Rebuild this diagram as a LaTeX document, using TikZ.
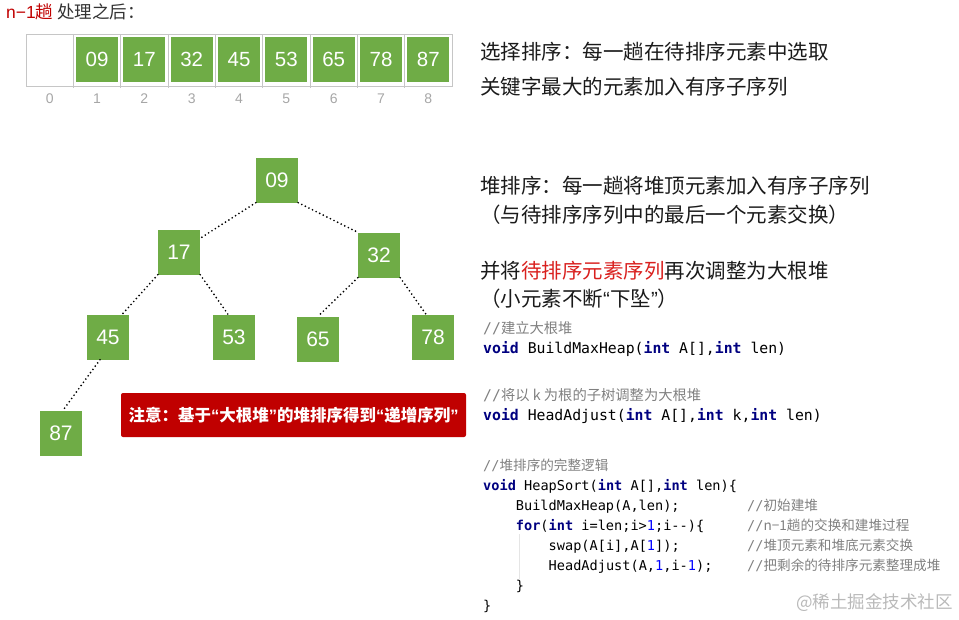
\documentclass[tikz,border=0pt]{standalone}
\usepackage{fontspec}
\setmainfont{Noto Sans CJK SC}
\newfontfamily\cjk{Noto Sans CJK SC}
\newfontfamily\latinfont{Liberation Sans}
\newfontfamily\codefont{DejaVu Sans Mono}
\usetikzlibrary{positioning}

\definecolor{boxgreen}{HTML}{6FAC46}
\definecolor{notered}{HTML}{C00000}
\definecolor{hlred}{HTML}{D9201E}
\definecolor{kwblue}{HTML}{000080}
\definecolor{numblue}{HTML}{0000FF}
\definecolor{cmtgray}{HTML}{808080}
\definecolor{textdark}{HTML}{1A1A1A}

\newcommand{\kw}[1]{{\bfseries\color{kwblue}#1}}
\newcommand{\nm}[1]{{\color{numblue}#1}}
\newcommand{\oq}{{\latinfont “}}
\newcommand{\cq}{{\latinfont ”}}

\begin{document}
\begin{tikzpicture}[
  x=1pt, y=-1pt,
  cell/.style={fill=boxgreen,minimum width=42pt,minimum height=45pt,inner sep=0pt,
               text=white,font=\latinfont\fontsize{20.5}{21}\selectfont},
  heapnode/.style={cell,font=\latinfont\fontsize{21}{21}\selectfont},
  idx/.style={text=gray!70,font=\latinfont\fontsize{14}{14}\selectfont,inner sep=0pt},
  desc/.style={anchor=west,inner sep=0pt,text=textdark,font=\fontsize{20.5}{21}\selectfont},
  heapedge/.style={draw,line width=1.9pt,line cap=round,dash pattern=on 0pt off 4pt},
  notebox/.style={fill=notered,rounded corners=2pt,minimum width=345pt,minimum height=44pt,
                  text=white,font=\bfseries\fontsize{16.5}{17}\selectfont},
  codeline/.style={anchor=base west,inner sep=0pt,font=\codefont\fontsize{14.8}{15}\selectfont},
  codesmall/.style={codeline,font=\codefont\fontsize{13.6}{14}\selectfont},
  cmtline/.style={codesmall,text=cmtgray}
]
\useasboundingbox (0,0) rectangle (959,619);

% title
\node[anchor=west,inner sep=0pt,font=\fontsize{17.5}{18}\selectfont] (title) at (6,12)
  {{\color{notered}{\latinfont n−1}趟}\ {\color{black!80}处理之后：}};

% array after n-1 passes
\draw[gray!45,line width=0.8pt] (26,34) rectangle (452,86);
\foreach \i in {1,...,8}
  \draw[gray!45,line width=0.8pt] (26+47.33*\i,34) -- (26+47.33*\i,88);
\foreach \v [count=\i] in {09,17,32,45,53,65,78,87}
  \node[cell] (a\i) at (49.7+47.33*\i,59.5) {\v};
\foreach \i in {0,...,8}
  \node[idx] (i\i) at (49.7+47.33*\i,99) {\i};

% heap tree
\node[heapnode] (n09) at (277,180) {09};
\node[heapnode] (n17) at (179,252) {17};
\node[heapnode] (n32) at (379,255) {32};
\node[heapnode] (n45) at (108,337) {45};
\node[heapnode] (n53) at (234,337) {53};
\node[heapnode] (n65) at (318,339) {65};
\node[heapnode] (n78) at (433,337) {78};
\node[heapnode] (n87) at (61,433) {87};

\draw[heapedge] (n09.south west) -- ([yshift=-9pt]n17.north east);
\draw[heapedge] (n09.south east) -- (n32.north west);
\draw[heapedge] (n17.south west) -- ([xshift=-7pt]n45.north east);
\draw[heapedge] (n17.south east) -- ([xshift=-6pt]n53.north);
\draw[heapedge] (n32.south west) -- (n65.north);
\draw[heapedge] (n32.south east) -- ([xshift=-7pt]n78.north);
\draw[heapedge] ([xshift=-8pt]n45.south) -- ([xshift=2pt]n87.north);

\node[notebox] (note) at (293.5,415) {注意：基于\oq 大根堆\cq 的堆排序得到\oq 递增序列\cq};

% explanations
\node[desc] (sel1) at (480,52) {选择排序：每一趟在待排序元素中选取};
\node[desc] (sel2) at (480,87) {关键字最大的元素加入有序子序列};
\node[desc] (hp1) at (480,186) {堆排序：每一趟将堆顶元素加入有序子序列};
\node[desc] (hp2) at (480,215) {（与待排序序列中的最后一个元素交换）};
\node[desc] (hp3) at (480,271) {并将{\color{hlred}待排序元素序列}再次调整为大根堆};
\node[desc] (hp4) at (480,299) {（小元素不断\oq 下坠\cq）};

% code
\node[codeline,text=cmtgray] (c1) at (483,333) {//{\cjk\fontsize{14.3}{15}\selectfont 建立大根堆}};
\node[codeline] (c2) at (483,353) {\kw{void} BuildMaxHeap(\kw{int} A[],\kw{int} len)};
\node[codeline,text=cmtgray] (c3) at (483,400)
  {//{\cjk\fontsize{14.3}{15}\selectfont 将以 \textit{k} 为根的子树调整为大根堆}};
\node[codeline] (c4) at (483,420) {\kw{void} HeadAdjust(\kw{int} A[],\kw{int} k,\kw{int} len)};

\node[cmtline] (c5) at (483,470) {//{\cjk 堆排序的完整逻辑}};
\node[codesmall] (c6) at (483,490) {\kw{void} HeapSort(\kw{int} A[],\kw{int} len)\{};
\node[codesmall] (c7) at (515.7,510) {BuildMaxHeap(A,len);};
\node[codesmall] (c8) at (515.7,530) {\kw{for}(\kw{int} i=len;i>\nm{1};i-{}-)\{};
\node[codesmall] (c9) at (548.5,550) {swap(A[i],A[\nm{1}]);};
\node[codesmall] (c10) at (548.5,570) {HeadAdjust(A,\nm{1},i-\nm{1});};
\node[codesmall] (c11) at (515.7,590) {\}};
\node[codesmall] (c12) at (483,610) {\}};

\node[cmtline] (m7) at (747,510) {//{\cjk 初始建堆}};
\node[cmtline] (m8) at (747,530) {//{\cjk\textit{n−1}趟的交换和建堆过程}};
\node[cmtline] (m9) at (747,550) {//{\cjk 堆顶元素和堆底元素交换}};
\node[cmtline] (m10) at (747,570) {//{\cjk 把剩余的待排序元素整理成堆}};

\draw[gray!20,line width=0.8pt] (519,534) -- (519,579);

% watermark
\node[anchor=east,inner sep=0pt,text=gray!55,font=\fontsize{17.5}{18}\selectfont] (wm) at (953,603)
  {@稀土掘金技术社区};
\end{tikzpicture}
\end{document}
